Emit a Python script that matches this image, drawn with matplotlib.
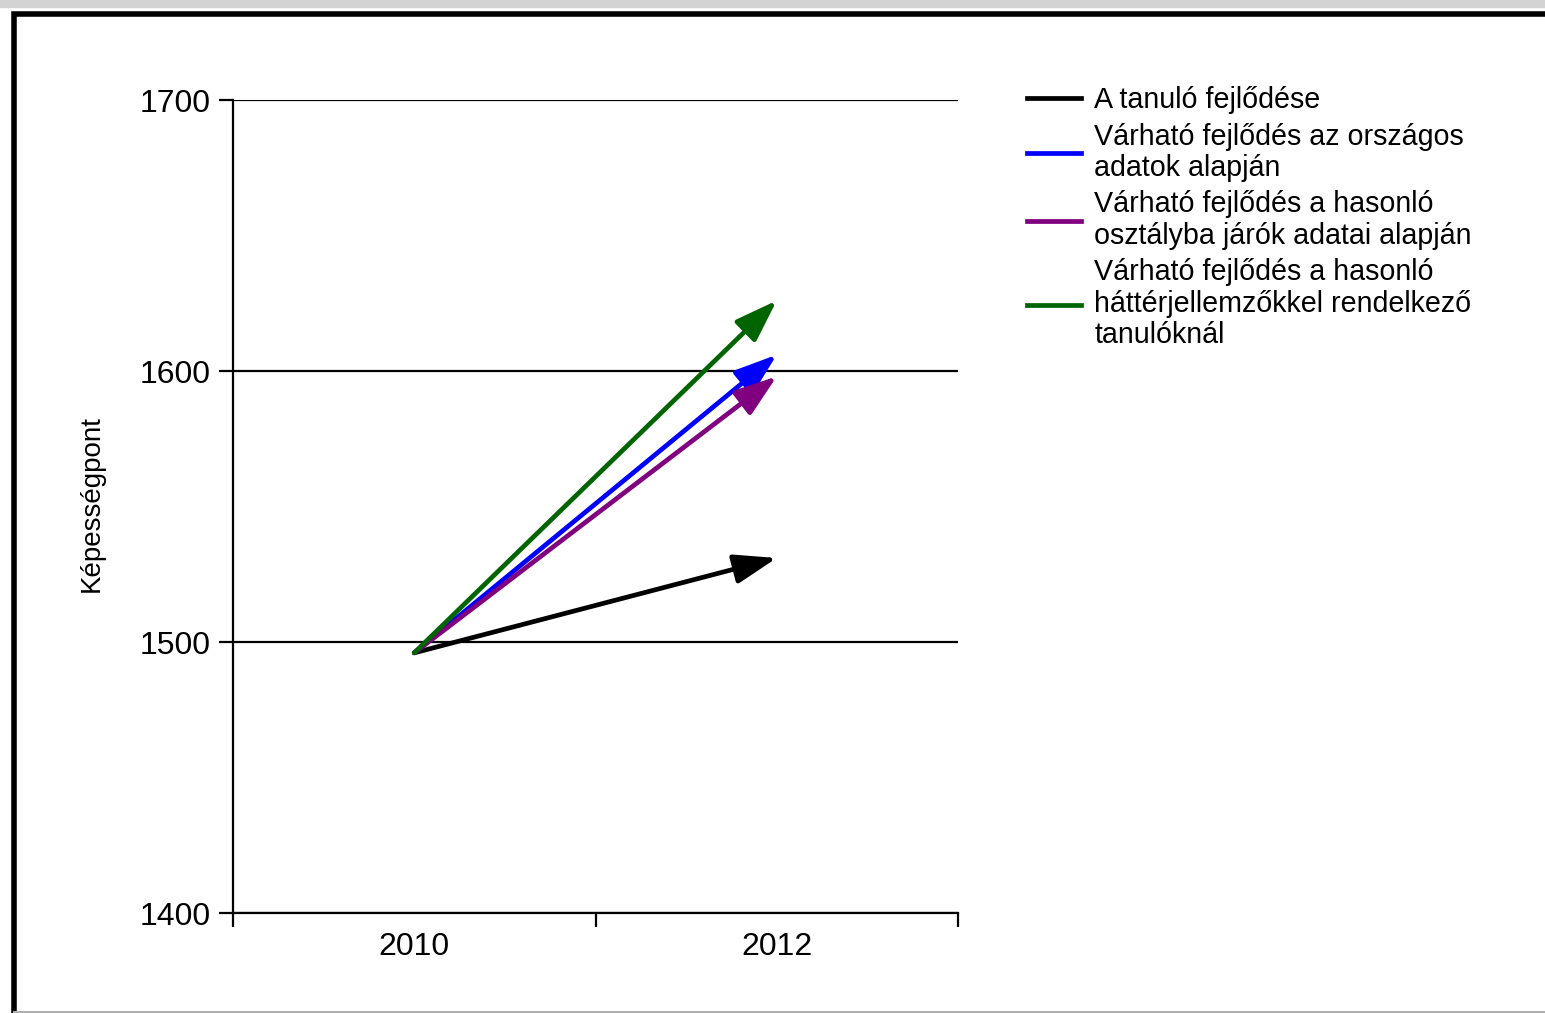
import matplotlib.pyplot as plt
from matplotlib.patches import Rectangle
from matplotlib.lines import Line2D

# data
years = ['2010', '2012']
start_val = 1496
series_names = [
    'A tanuló fejlődése',
    'Várható fejlődés az országos\nadatok alapján',
    'Várható fejlődés a hasonló\nosztályba járók adatai alapján',
    'Várható fejlődés a hasonló\nháttérjellemzőkkel rendelkező\ntanulóknál',
]
end_vals = [1531, 1606, 1598, 1626]
colors = ['#000000', '#0000ff', '#800080', '#006400']
yticks = [1400, 1500, 1600, 1700]

plt.rcParams['font.family'] = ['Liberation Sans', 'DejaVu Sans']

W, H = 1545, 1013
fig = plt.figure(figsize=(W / 100, H / 100), dpi=100)

# window-ish frame around the chart
fig.patches.append(Rectangle((0, 1 - 7 / H), 1, 7 / H, transform=fig.transFigure,
                             color='#d3d3d3', zorder=0))
fig.add_artist(Line2D([14 / W, 14 / W, 1], [0, 1 - 14 / H, 1 - 14 / H],
                      transform=fig.transFigure, color='black', lw=4,
                      solid_joinstyle='miter'))
fig.add_artist(Line2D([14 / W, 1], [1.5 / H, 1.5 / H], transform=fig.transFigure,
                      color='#b0b0b0', lw=1.5))

ax = fig.add_axes([233 / W, 1 - 913 / H, (958 - 233) / W, (913 - 100) / H])

x = list(range(len(years)))
for name, end, c in zip(series_names, end_vals, colors):
    ax.annotate('', xy=(x[1], end), xytext=(x[0], start_val),
                arrowprops=dict(arrowstyle='-|>,head_length=1.3,head_width=0.45',
                                lw=3.4, color=c, shrinkA=0, shrinkB=0,
                                mutation_scale=20))

ax.set_xlim(-0.5, 1.5)
ax.set_ylim(1400, 1700)
ax.set_yticks(yticks)
ax.set_yticklabels([str(v) for v in yticks])
ax.yaxis.grid(True, color='black', lw=1.6)
ax.set_axisbelow(True)

ax.set_xticks(x)
ax.set_xticklabels(years)
ax.set_xticks([-0.5, 0.5, 1.5], minor=True)
ax.tick_params(axis='x', which='major', length=0, pad=14, labelsize=23)
ax.tick_params(axis='x', which='minor', length=10, width=1.6, direction='out')
ax.tick_params(axis='y', length=10, width=1.6, pad=6, labelsize=23)

for s in ['top', 'right']:
    ax.spines[s].set_visible(False)
for s in ['left', 'bottom']:
    ax.spines[s].set_linewidth(1.6)

fig.text(92 / W, 1 - 504 / H, 'Képességpont', rotation=90, fontsize=20,
         ha='center', va='center')

handles = [Line2D([], [], color=c, lw=3.4) for c in colors]
leg = fig.legend(handles, series_names, loc='upper left',
                 bbox_to_anchor=(1027 / W, 1 - 86 / H), frameon=False,
                 fontsize=20.6, handlelength=1.9, handletextpad=0.45,
                 labelspacing=0.3, borderpad=0, borderaxespad=0)
for t in leg.get_texts():
    t.set_linespacing(1.15)

fig.savefig('out.png', dpi=100)
